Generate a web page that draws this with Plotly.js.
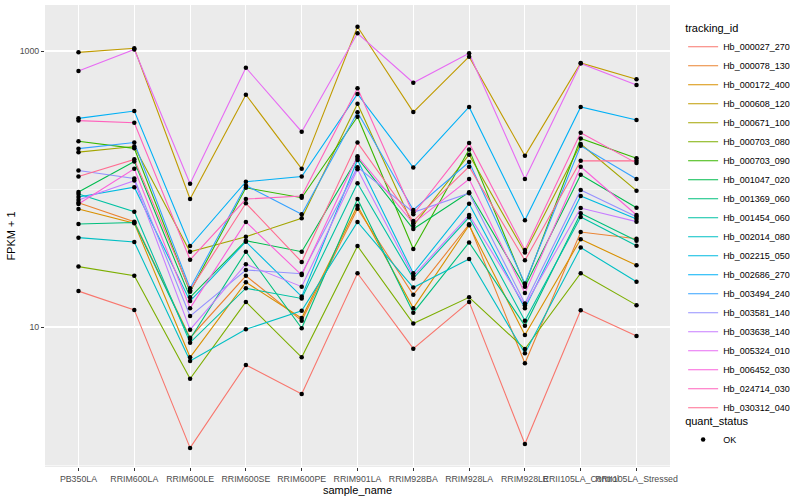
<!DOCTYPE html>
<html>
<head>
<meta charset="utf-8">
<script src="https://cdn.plot.ly/plotly-3.0.1.min.js"></script>
<style>html,body{margin:0;padding:0;background:#fff;}#chart{width:800px;height:500px;}</style>
</head>
<body>
<div id="chart"></div>
<script>
// ---- data (FPKM + 1) ----
const sampleNames = ["PB350LA","RRIM600LA","RRIM600LE","RRIM600SE","RRIM600PE","RRIM901LA","RRIM928BA","RRIM928LA","RRIM928LE","RRII105LA_Control","RRII105LA_Stressed"];
const trackingIds = ["Hb_000027_270","Hb_000078_130","Hb_000172_400","Hb_000608_120","Hb_000671_100","Hb_000703_080","Hb_000703_090","Hb_001047_020","Hb_001369_060","Hb_001454_060","Hb_002014_080","Hb_002215_050","Hb_002686_270","Hb_003494_240","Hb_003581_140","Hb_003638_140","Hb_005324_010","Hb_006452_030","Hb_024714_030","Hb_030312_040"];
const hb000027_270 = [18.2, 13.3, 1.33, 5.31, 3.27, 24.5, 6.97, 15.2, 1.42, 13.2, 8.61];
const hb000078_130 = [79.6, 58.0, 8.37, 23.5, 11.1, 72.0, 17.1, 55.5, 5.46, 48.8, 43.6];
const hb000172_400 = [71.6, 56.4, 6.03, 21.1, 11.6, 75.7, 13.7, 54.6, 8.75, 43.2, 28.0];
const hb000608_120 = [978, 1046, 84.7, 482, 140, 1500, 361, 910, 174, 819, 624];
const hb000671_100 = [185, 203, 35.1, 45.1, 61.4, 415, 54.2, 177, 34.6, 212, 97.2];
const hb000703_080 = [27.4, 23.5, 4.22, 15.2, 6.03, 38.6, 10.6, 16.4, 6.93, 24.5, 14.4];
const hb000703_090 = [222, 197, 18.0, 102, 86.5, 334, 36.7, 193, 20.2, 232, 167];
const hb001047_020 = [95.1, 158, 16.4, 42.2, 35.1, 168, 51.3, 94.6, 19.6, 127, 73.2];
const hb001369_060 = [55.8, 57.2, 8.19, 35.1, 9.79, 84.6, 12.7, 41.0, 10.2, 66.7, 42.2];
const hb001454_060 = [92.0, 68.5, 7.70, 19.1, 16.1, 110, 22.5, 62.4, 11.1, 62.7, 38.8];
const hb002014_080 = [44.4, 41.3, 5.67, 9.62, 13.1, 57.7, 19.3, 31.1, 6.45, 37.6, 21.3];
const hb002215_050 = [87.5, 103, 15.4, 41.5, 16.6, 162, 24.5, 78.3, 13.7, 89.0, 60.6];
const hb002686_270 = [325, 367, 38.6, 113, 123, 488, 143, 393, 59.3, 393, 316];
const hb003494_240 = [196, 217, 19.1, 106, 65.6, 360, 70.5, 157, 20.7, 206, 118];
const hb003581_140 = [136, 119, 12.0, 25.9, 24.3, 144, 67.8, 93.1, 14.8, 98.3, 63.0];
const hb003638_140 = [83.3, 115, 9.56, 28.5, 19.6, 139, 23.4, 64.8, 14.3, 72.8, 58.0];
const hb005324_010 = [716, 1025, 109, 757, 260, 1343, 589, 962, 118, 812, 567];
const hb006452_030 = [77.9, 140, 13.7, 57.7, 23.8, 173, 56.4, 118, 17.6, 145, 64.8];
const hb024714_030 = [313, 302, 30.7, 84.6, 89.0, 537, 65.6, 215, 36.1, 256, 154];
const hb030312_040 = [123, 164, 18.5, 78.8, 29.6, 217, 58.6, 145, 30.4, 160, 160];
const yTickVals = [10, 1000];
const yTickText = ["10", "1000"];
const quantStatus = "OK";

// ---- styling ----
const palette = ["#F8766D","#EA8331","#D89000","#C09B00","#A3A500","#7CAE00","#39B600","#00BB4E","#00BF7D","#00C1A3","#00BFC4","#00BAE0","#00B0F6","#35A2FF","#9590FF","#C77CFF","#E76BF3","#FA62DB","#FF62BC","#FF6C91"];
const seriesValues = [hb000027_270, hb000078_130, hb000172_400, hb000608_120, hb000671_100, hb000703_080, hb000703_090, hb001047_020, hb001369_060, hb001454_060, hb002014_080, hb002215_050, hb002686_270, hb003494_240, hb003581_140, hb003638_140, hb005324_010, hb006452_030, hb024714_030, hb030312_040];

const FONT = "Liberation Sans, Arial, Helvetica, sans-serif";
const traces = [];
trackingIds.forEach((id, i) => {
  traces.push({
    type: "scatter", mode: "lines", name: id,
    x: sampleNames, y: seriesValues[i],
    line: {color: palette[i], width: 1.1},
    hoverinfo: "skip", legend: "legend"
  });
});
trackingIds.forEach((id, i) => {
  traces.push({
    type: "scatter", mode: "markers", name: quantStatus,
    x: sampleNames, y: seriesValues[i],
    marker: {color: "#000000", size: 4.5, symbol: "circle"},
    hoverinfo: "skip", legend: "legend2",
    showlegend: i === 0
  });
});

const layout = {
  width: 800, height: 500,
  paper_bgcolor: "#FFFFFF", plot_bgcolor: "#EBEBEB",
  margin: {l: 45, r: 116, t: 5, b: 33, pad: 0},
  font: {family: FONT, color: "#000000"},
  showlegend: true,
  xaxis: {
    type: "category", categoryorder: "array", categoryarray: sampleNames,
    range: [-0.6, 10.6], autorange: false,
    showgrid: true, gridcolor: "#FFFFFF", gridwidth: 1.1,
    zeroline: false, showline: false,
    ticks: "outside", ticklen: 3, tickwidth: 1, tickcolor: "#333333",
    tickangle: 0,
    tickfont: {family: FONT, size: 8.8, color: "#4D4D4D"},
    title: {text: "sample_name", font: {family: FONT, size: 11, color: "#000000"}, standoff: 1},
    automargin: false, fixedrange: true
  },
  yaxis: {
    type: "log", range: [-0.0145, 3.3333], autorange: false,
    tickmode: "array", tickvals: yTickVals, ticktext: yTickText,
    showgrid: true, gridcolor: "#FFFFFF", gridwidth: 1.1,
    minor: {tickmode: "array", tickvals: [1, 100], showgrid: true, gridcolor: "#FFFFFF", gridwidth: 0.55, ticks: ""},
    zeroline: false, showline: false,
    ticks: "outside", ticklen: 3, tickwidth: 1, tickcolor: "#333333",
    tickfont: {family: FONT, size: 8.8, color: "#4D4D4D"},
    title: {text: "FPKM + 1", font: {family: FONT, size: 11, color: "#000000"}, standoff: 1},
    automargin: false, fixedrange: true
  },
  legend: {
    x: 1.021, xanchor: "left", y: 0.972, yanchor: "top",
    bgcolor: "rgba(0,0,0,0)", borderwidth: 0,
    title: {text: "tracking_id", font: {family: FONT, size: 11, color: "#000000"}},
    font: {family: FONT, size: 9, color: "#000000"},
    tracegroupgap: 0, itemclick: false, itemdoubleclick: false
  },
  legend2: {
    x: 1.021, xanchor: "left", y: 0.122, yanchor: "top",
    bgcolor: "rgba(0,0,0,0)", borderwidth: 0,
    title: {text: "quant_status", font: {family: FONT, size: 11, color: "#000000"}},
    font: {family: FONT, size: 9, color: "#000000"},
    itemclick: false, itemdoubleclick: false
  }
};

Plotly.newPlot("chart", traces, layout, {displayModeBar: false, staticPlot: true});
</script>
</body>
</html>
